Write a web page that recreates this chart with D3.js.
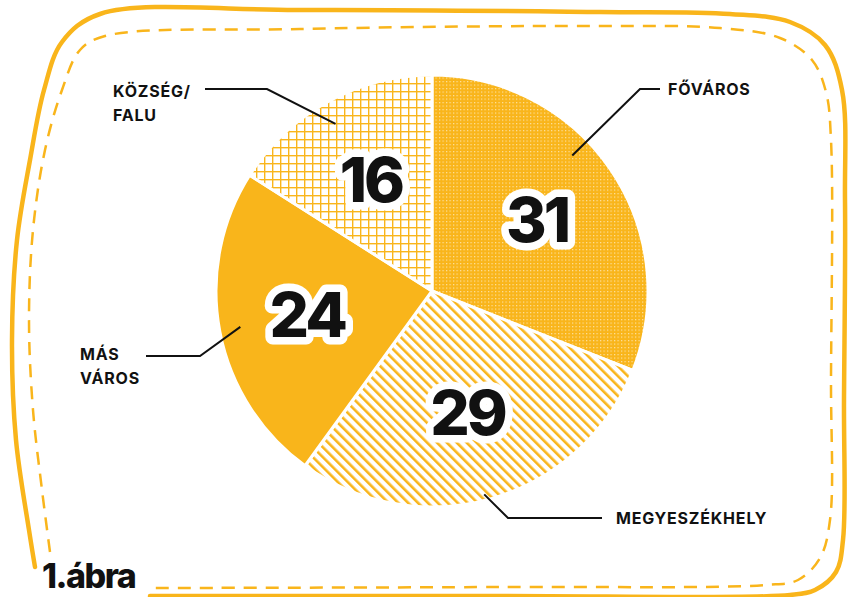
<!DOCTYPE html>
<html>
<head>
<meta charset="utf-8">
<script src="https://cdn.jsdelivr.net/npm/d3@7"></script>
<style>
  body { margin: 0; background: #fff; }
  svg { display: block; }
  .lbl { font-family: Inter, "Open Sans", sans-serif; font-weight: 700; font-size: 16px; letter-spacing: 0.8px; fill: #111; }
  .num { font-family: Inter, sans-serif; font-weight: 800; font-size: 62px; letter-spacing: -3px; }
</style>
</head>
<body>
<div id="chart"></div>
<script>
// values (percent)
const categories = ["FŐVÁROS", "MEGYESZÉKHELY", "MÁS VÁROS", "KÖZSÉG/FALU"];
const values = [31, 29, 24, 16];
const labelLines = [["FŐVÁROS"], ["MEGYESZÉKHELY"], ["MÁS", "VÁROS"], ["KÖZSÉG/", "FALU"]];
const fills = ["url(#dots)", "url(#stripes)", "#f9b51b", "url(#grid)"];

const config = {
    width: 848,
    height: 597,
    cx: 432,
    cy: 291,
    r: 216,
    numR: 127,
    color: "#f9b51b",
};

// leader lines: angle (deg, clockwise from top) and radius of the start, then elbow/end and label spot
const leaders = [
    {a: 46,    r: 195, elbow: [640, 89],  end: [660, 89],  tx: 668, ty: 95},
    {a: 165.6, r: 210, elbow: [508, 518], end: [602, 518], tx: 616, ty: 524},
    {a: 259.4, r: 195, elbow: [200, 356], end: [146, 356], tx: 80,  ty: 360},
    {a: 330,   r: 193, elbow: [267, 89],  end: [205, 89],  tx: 113, ty: 97},
];

const svg = d3.select("#chart").append("svg")
    .attr("width", config.width)
    .attr("height", config.height);

const defs = svg.append("defs");

let p = defs.append("pattern").attr("id", "dots")
    .attr("patternUnits", "userSpaceOnUse").attr("width", 3.5).attr("height", 3.5);
p.append("rect").attr("width", 3.5).attr("height", 3.5).attr("fill", config.color);
p.append("rect").attr("x", 0).attr("y", 0).attr("width", 1.2).attr("height", 1.2).attr("fill", "#fff").attr("opacity", 0.6);

p = defs.append("pattern").attr("id", "stripes")
    .attr("patternUnits", "userSpaceOnUse").attr("width", 7).attr("height", 7)
    .attr("patternTransform", "rotate(-45)");
p.append("rect").attr("width", 2.6).attr("height", 7).attr("fill", config.color);

p = defs.append("pattern").attr("id", "grid")
    .attr("patternUnits", "userSpaceOnUse").attr("width", 8).attr("height", 8);
p.append("rect").attr("width", 8).attr("height", 1.4).attr("fill", config.color);
p.append("rect").attr("width", 1.4).attr("height", 8).attr("fill", config.color);

// decorative frame
const frame = d3.line().curve(d3.curveCatmullRom.alpha(0.5));
const outer = [[35, 567], [29, 530], [16, 440], [12, 340], [17, 240], [30, 160], [44, 90], [62, 42], [100, 14],
    [300, 10], [600, 12], [730, 14], [790, 22], [825, 45], [842, 90], [845, 200], [844, 400], [843, 540],
    [836, 572], [815, 590], [790, 595], [500, 596], [150, 596]];
svg.append("path")
    .attr("d", frame(outer))
    .attr("fill", "none")
    .attr("stroke", config.color)
    .attr("stroke-width", 4.5)
    .attr("stroke-linecap", "round");

const inner = [[50, 552], [42, 490], [33, 410], [29, 320], [33, 230], [45, 150], [62, 90], [80, 50], [105, 36],
    [300, 29], [600, 26], [720, 28], [780, 38], [812, 60], [826, 92], [831, 140], [831, 380], [830, 520],
    [820, 558], [798, 580], [765, 585], [500, 587], [155, 588]];
svg.append("path")
    .attr("d", frame(inner))
    .attr("fill", "none")
    .attr("stroke", config.color)
    .attr("stroke-width", 2.5)
    .attr("stroke-dasharray", "13 9");

// pie
const pie = d3.pie().sort(null).value(d => d);
const arcs = pie(values);
const arc = d3.arc().innerRadius(0).outerRadius(config.r);
const numArc = d3.arc().innerRadius(config.numR).outerRadius(config.numR);

const g = svg.append("g").attr("transform", `translate(${config.cx},${config.cy})`);

g.selectAll("path.slice")
    .data(arcs)
    .join("path")
    .attr("class", "slice")
    .attr("d", arc)
    .attr("fill", (d, i) => fills[i])
    .attr("stroke", "#fff")
    .attr("stroke-width", 3)
    .attr("stroke-linejoin", "round");

// leader lines
const rad = Math.PI / 180;
svg.append("g")
    .selectAll("polyline")
    .data(leaders)
    .join("polyline")
    .attr("points", d => {
        const sx = config.cx + d.r * Math.sin(d.a * rad);
        const sy = config.cy - d.r * Math.cos(d.a * rad);
        return [[sx, sy], d.elbow, d.end].map(q => q.join(",")).join(" ");
    })
    .attr("fill", "none")
    .attr("stroke", "#111")
    .attr("stroke-width", 2);

// category labels
svg.append("g")
    .selectAll("text")
    .data(leaders)
    .join("text")
    .attr("class", "lbl")
    .attr("x", d => d.tx)
    .attr("y", d => d.ty)
    .each(function(d, i) {
        d3.select(this).selectAll("tspan")
            .data(labelLines[i])
            .join("tspan")
            .attr("x", d.tx)
            .attr("dy", (t, j) => j === 0 ? 0 : 24)
            .text(t => t);
    });

// numbers with white halo
g.selectAll("text.num")
    .data(arcs)
    .join("text")
    .attr("class", "num")
    .attr("transform", d => `translate(${numArc.centroid(d)})`)
    .attr("text-anchor", "middle")
    .attr("dy", "0.36em")
    .attr("fill", "#111")
    .attr("stroke", "#fff")
    .attr("stroke-width", 15)
    .attr("stroke-linejoin", "round")
    .attr("paint-order", "stroke")
    .text(d => d.data);

// title
svg.append("text")
    .attr("x", 42)
    .attr("y", 588)
    .attr("font-family", "Inter, sans-serif")
    .attr("font-weight", 800)
    .attr("font-size", 34)
    .attr("letter-spacing", -1.5)
    .attr("fill", "#111")
    .text("1.ábra");
</script>
</body>
</html>
